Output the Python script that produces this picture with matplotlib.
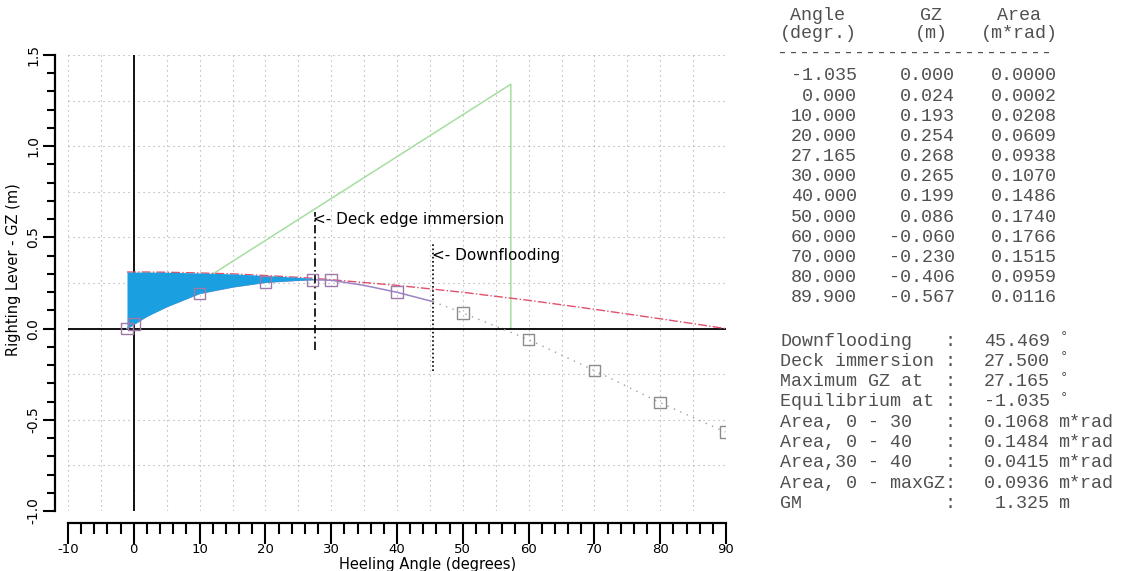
import numpy as np
import matplotlib
matplotlib.use('Agg')
import matplotlib.pyplot as plt
from matplotlib.ticker import MultipleLocator

W, H = 1127, 571
PT = 0.72  # points per pixel at 100 dpi

# Stability table
table_angle = [-1.035, 0.0, 10.0, 20.0, 27.165, 30.0, 40.0, 50.0, 60.0, 70.0, 80.0, 89.9]
table_gz = [0.000, 0.024, 0.193, 0.254, 0.268, 0.265, 0.199, 0.086, -0.060, -0.230, -0.406, -0.567]
table_area = [0.0000, 0.0002, 0.0208, 0.0609, 0.0938, 0.1070, 0.1486, 0.1740, 0.1766, 0.1515, 0.0959, 0.0116]

# GZ curve up to downflooding, and beyond it
gz_angle = [-1.035, 0.0, 2.0, 5.0, 10.0, 15.0, 20.0, 25.0, 27.165, 30.0, 35.0, 40.0, 45.469]
gz_value = [0.000, 0.024, 0.068, 0.120, 0.193, 0.228, 0.254, 0.265, 0.268, 0.265, 0.237, 0.199, 0.148]
gz_flooded_angle = [45.469, 50.0, 60.0, 70.0, 80.0, 89.9]
gz_flooded_value = [0.148, 0.086, -0.060, -0.230, -0.406, -0.567]

# Heeling arm
heel_angle = [-1.035, 0.0, 2.0, 5.0, 10.0, 15.0, 20.0, 25.0, 27.165, 30.0, 40.0, 50.0, 60.0, 70.0, 80.0, 90.0]
heel_value = [0.310, 0.310, 0.310, 0.309, 0.305, 0.300, 0.291, 0.281, 0.276, 0.268, 0.237, 0.199, 0.155, 0.106, 0.054, 0.000]

# GM triangle
gm_angle = [-1.035, 57.3, 57.3]
gm_value = [0.0, 1.34, 0.0]

deck_immersion = 27.5
downflooding = 45.469

summary_labels = ['Downflooding', 'Deck immersion', 'Maximum GZ at', 'Equilibrium at',
                  'Area, 0 - 30', 'Area, 0 - 40', 'Area,30 - 40', 'Area, 0 - maxGZ', 'GM']
summary_values = ['45.469', '27.500', '27.165', '-1.035', '0.1068', '0.1484', '0.0415', '0.0936', '1.325']
summary_units = ['°', '°', '°', '°', 'm*rad', 'm*rad', 'm*rad', 'm*rad', 'm']

fig = plt.figure(figsize=(W / 100, H / 100), dpi=100)


def px(x, y):
    return x / W, 1 - y / H


# plot area in pixels: x -10..90 -> 68..726, y -1..1.5 -> 511..55
ax = fig.add_axes([68 / W, 1 - 511 / H, (726 - 68) / W, (511 - 55) / H])
ax.set_xlim(-10, 90)
ax.set_ylim(-1.0, 1.5)

for a in np.arange(-10, 91, 5):
    ax.axvline(a, color='#a8a8a8', lw=0.8, ls=(0, (1, 3.5)), zorder=0)
for g in np.arange(-1.0, 1.51, 0.25):
    ax.axhline(g, color='#a8a8a8', lw=0.8, ls=(0, (1, 3.5)), zorder=0)

ax.axvline(0, color='black', lw=1.3, zorder=2)
ax.axhline(0, color='black', lw=1.3, zorder=2)

ax.plot(gm_angle, gm_value, color='#a6dea0', lw=1.1, zorder=1)
ax.plot(heel_angle, heel_value, color='#e0506a', lw=1.0, ls='-.', zorder=3)
ax.plot(gz_angle, gz_value, color='#9c84c4', lw=1.1, zorder=3)
ax.plot(gz_flooded_angle, gz_flooded_value, color='#a0a0a0', lw=1.0, ls=(0, (1, 4)), zorder=3)

n_fill = gz_angle.index(27.165) + 1
ax.fill_between(gz_angle[:n_fill], gz_value[:n_fill], heel_value[:n_fill],
                color='#1a9fe0', lw=0, zorder=4)

mark_colors = ['#a07aa8' if a < downflooding else '#8c8c8c' for a in table_angle]
ax.scatter(table_angle, table_gz, marker='s', s=70, facecolors='none',
           edgecolors=mark_colors, linewidths=1.0, zorder=5)

ax.plot([deck_immersion] * 2, [-0.12, 0.64], color='black', lw=1.2,
        ls=(0, (5, 2, 1, 2)), zorder=3)
ax.plot([downflooding] * 2, [-0.235, 0.47], color='black', lw=1.2,
        ls=(0, (1, 1.5)), zorder=3)
ax.text(27.2, 0.597, '<- Deck edge immersion', fontsize=11, va='center', ha='left', zorder=6)
ax.text(45.3, 0.40, '<- Downflooding', fontsize=11, va='center', ha='left', zorder=6)

# detached axis lines with ticks
for side in ['top', 'right']:
    ax.spines[side].set_visible(False)
ax.spines['left'].set_position(('outward', 13 * PT))
ax.spines['bottom'].set_position(('outward', 12 * PT))
ax.spines['left'].set_bounds(-1.0, 1.5)
ax.spines['bottom'].set_bounds(-10, 90)
ax.spines['left'].set_linewidth(1.6)
ax.spines['bottom'].set_linewidth(1.6)

ax.xaxis.set_major_locator(MultipleLocator(10))
ax.xaxis.set_minor_locator(MultipleLocator(2))
ax.yaxis.set_major_locator(MultipleLocator(0.5))
ax.yaxis.set_minor_locator(MultipleLocator(0.1))
ax.tick_params(axis='x', which='major', direction='out', length=21 * PT, width=1.5, pad=-1, labelsize=9.5)
ax.tick_params(axis='x', which='minor', direction='out', length=11 * PT, width=1.5)
ax.tick_params(axis='y', which='major', direction='out', length=12 * PT, width=1.5, pad=2, labelsize=10)
ax.tick_params(axis='y', which='minor', direction='out', length=8 * PT, width=1.5)
ax.set_xticklabels([f'{v:g}' for v in ax.get_xticks()])
ax.set_yticks(np.arange(-1.0, 1.51, 0.5))
ax.set_yticklabels([f'{v:.1f}' for v in np.arange(-1.0, 1.51, 0.5)], rotation=90, va='center')

fig.text(*px(428, 564), 'Heeling Angle (degrees)', fontsize=10.5, ha='center', va='center')
fig.text(*px(14, 270), 'Righting Lever - GZ (m)', fontsize=10.5, ha='center', va='center', rotation=90)

# right-hand table
mono = dict(family='Liberation Mono', fontsize=13.2, color='#505050', va='center')
col_right = [857, 955, 1057]
fig.text(*px(818, 16), 'Angle', ha='center', **mono)
fig.text(*px(818, 33), '(degr.)', ha='center', **mono)
fig.text(*px(931, 16), 'GZ', ha='center', **mono)
fig.text(*px(931, 33), '(m)', ha='center', **mono)
fig.text(*px(1019, 16), 'Area', ha='center', **mono)
fig.text(*px(1019, 33), '(m*rad)', ha='center', **mono)
fig.text(*px(777, 53), '-' * 25, ha='left', **mono)

for i, (a, g, ar) in enumerate(zip(table_angle, table_gz, table_area)):
    y = 76 + i * 20.15
    fig.text(*px(col_right[0], y), f'{a:.3f}', ha='right', **mono)
    fig.text(*px(col_right[1], y), f'{g:.3f}', ha='right', **mono)
    fig.text(*px(col_right[2], y), f'{ar:.4f}', ha='right', **mono)

for i, (lab, val, unit) in enumerate(zip(summary_labels, summary_values, summary_units)):
    y = 341 + i * 20.3
    fig.text(*px(780, y), lab, ha='left', **mono)
    fig.text(*px(950, y), ':', ha='center', **mono)
    fig.text(*px(1050, y), val, ha='right', **mono)
    if unit == '°':
        fig.text(*px(1060, y - 4), unit, ha='left', **{**mono, 'fontsize': 10})
    else:
        fig.text(*px(1058, y), unit, ha='left', **mono)

fig.savefig('out.png', dpi=100)
